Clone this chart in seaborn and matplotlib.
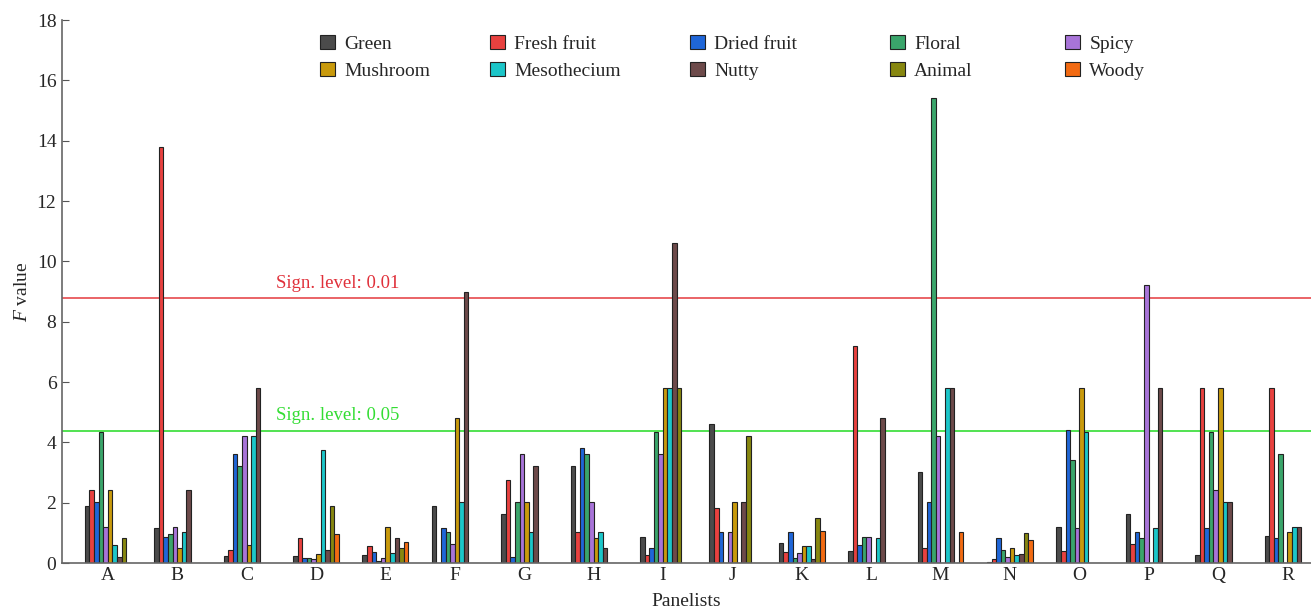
"""
F values of sensory attributes per panelist, with significance levels
"""

import pandas as pd
import matplotlib
matplotlib.use("Agg")
import matplotlib.pyplot as plt
import seaborn as sns

sns.set_style("white")
plt.rcParams['font.family'] = ['Liberation Serif', 'DejaVu Serif']
plt.rcParams['mathtext.fontset'] = 'custom'
plt.rcParams['mathtext.it'] = 'Liberation Serif:italic'
plt.rcParams['mathtext.rm'] = 'Liberation Serif'

# Data
panelists = list("ABCDEFGHIJKLMNOPQR")
attributes = ['Green', 'Fresh fruit', 'Dried fruit', 'Floral', 'Spicy',
              'Mushroom', 'Mesothecium', 'Nutty', 'Animal', 'Woody']

green       = [1.89, 1.15, 0.22, 0.24, 0.27, 1.88, 1.61, 3.22, 0.85, 4.61, 0.67, 0.41, 3.02, 0.03, 1.18, 1.64, 0.25, 0.90]
fresh_fruit = [2.42, 13.8, 0.42, 0.83, 0.57, 0.0, 2.75, 1.02, 0.28, 1.81, 0.38, 7.20, 0.51, 0.14, 0.41, 0.62, 5.81, 5.81]
dried_fruit = [2.01, 0.86, 3.61, 0.18, 0.38, 1.15, 0.21, 3.81, 0.50, 1.02, 1.04, 0.61, 2.01, 0.84, 4.41, 1.02, 1.15, 0.82]
floral      = [4.33, 0.95, 3.22, 0.15, 0.08, 1.02, 2.01, 3.61, 4.33, 0.0, 0.15, 0.85, 15.4, 0.43, 3.41, 0.82, 4.33, 3.61]
spicy       = [1.20, 1.20, 4.21, 0.12, 0.15, 0.62, 3.61, 2.01, 3.61, 1.02, 0.32, 0.85, 4.21, 0.19, 1.15, 9.22, 2.42, 0.0]
mushroom    = [2.42, 0.51, 0.61, 0.30, 1.20, 4.82, 2.01, 0.82, 5.81, 2.01, 0.56, 0.0, 0.0, 0.50, 5.81, 0.0, 5.81, 1.02]
mesothecium = [0.61, 1.02, 4.21, 3.73, 0.32, 2.01, 1.02, 1.02, 5.81, 0.0, 0.56, 0.82, 5.81, 0.27, 4.33, 1.15, 2.01, 1.18]
nutty       = [0.21, 2.42, 5.81, 0.42, 0.84, 9.00, 3.22, 0.51, 10.62, 2.01, 0.14, 4.82, 5.81, 0.31, 0.0, 5.81, 2.01, 1.18]
animal      = [0.82, 0.0, 0.0, 1.88, 0.50, 0.0, 0.0, 0.0, 5.81, 4.21, 1.49, 0.0, 0.0, 1.01, 0.0, 0.0, 0.0, 0.0]
woody       = [0.0, 0.0, 0.0, 0.95, 0.69, 0.0, 0.0, 0.0, 0.0, 0.0, 1.05, 0.0, 1.02, 0.75, 0.0, 0.0, 0.0, 0.0]

sign_001 = 8.78
sign_005 = 4.38

colors = ['#4b4b4b', '#e8413f', '#1f66d8', '#3aa56b', '#a874d8',
          '#c99a0c', '#1cc6c9', '#6d4a4a', '#878710', '#f26a12']


def build_frame():
    series = [green, fresh_fruit, dried_fruit, floral, spicy,
              mushroom, mesothecium, nutty, animal, woody]
    rows = []
    for attr, vals in zip(attributes, series):
        for p, v in zip(panelists, vals):
            rows.append({'panelist': p, 'attribute': attr, 'F': v})
    return pd.DataFrame(rows)


def main():
    df = build_frame()

    fig = plt.figure(figsize=(13.11, 6.08), dpi=100)
    ax = fig.add_axes([0.0473, 0.074, 0.9527, 0.893])

    sns.barplot(data=df, x='panelist', y='F', hue='attribute',
                hue_order=attributes, palette=colors, saturation=1,
                width=0.66, edgecolor='#222222', linewidth=0.8,
                errorbar=None, ax=ax)

    ax.axhline(sign_001, color='#e8575a', lw=1.3, zorder=0.5)
    ax.axhline(sign_005, color='#33dd33', lw=1.2, zorder=0.5)
    ax.text(2.42, sign_001 + 0.22, 'Sign. level: 0.01', color='#e0303a',
            fontsize=13.5, va='bottom', ha='left')
    ax.text(2.42, sign_005 + 0.22, 'Sign. level: 0.05', color='#33dd33',
            fontsize=13.5, va='bottom', ha='left')

    ax.set_xlim(-0.66, 17.34)
    ax.set_ylim(0, 18)
    ax.set_yticks(range(0, 19, 2))
    ax.tick_params(axis='y', direction='in', length=5, color='#555555',
                   labelsize=14, left=True, pad=4)
    ax.tick_params(axis='x', length=0, labelsize=14, pad=3)
    ax.set_xlabel('Panelists', fontsize=14, labelpad=6)
    ax.set_ylabel(r'$F$ value', fontsize=14, labelpad=4)

    for s in ['top', 'right']:
        ax.spines[s].set_visible(False)
    for s in ['left', 'bottom']:
        ax.spines[s].set_color('#666666')
        ax.spines[s].set_linewidth(1.2)

    # legend: 5 columns of 2 entries, each column placed on its own
    handles, labels = ax.get_legend_handles_labels()
    ax.get_legend().remove()
    col_x = [320, 490, 690, 890, 1065]
    for c, x in enumerate(col_x):
        idx = [c, c + 5]
        fig.legend([handles[i] for i in idx], [labels[i] for i in idx],
                   loc='upper left', bbox_to_anchor=(x / 1311, 1 - 35 / 608),
                   frameon=False, fontsize=14, borderpad=0, borderaxespad=0,
                   handlelength=0.75, handleheight=0.75, handletextpad=0.5,
                   labelspacing=0.45)

    fig.savefig('out.png', dpi=100)
    plt.close(fig)


if __name__ == "__main__":
    main()
